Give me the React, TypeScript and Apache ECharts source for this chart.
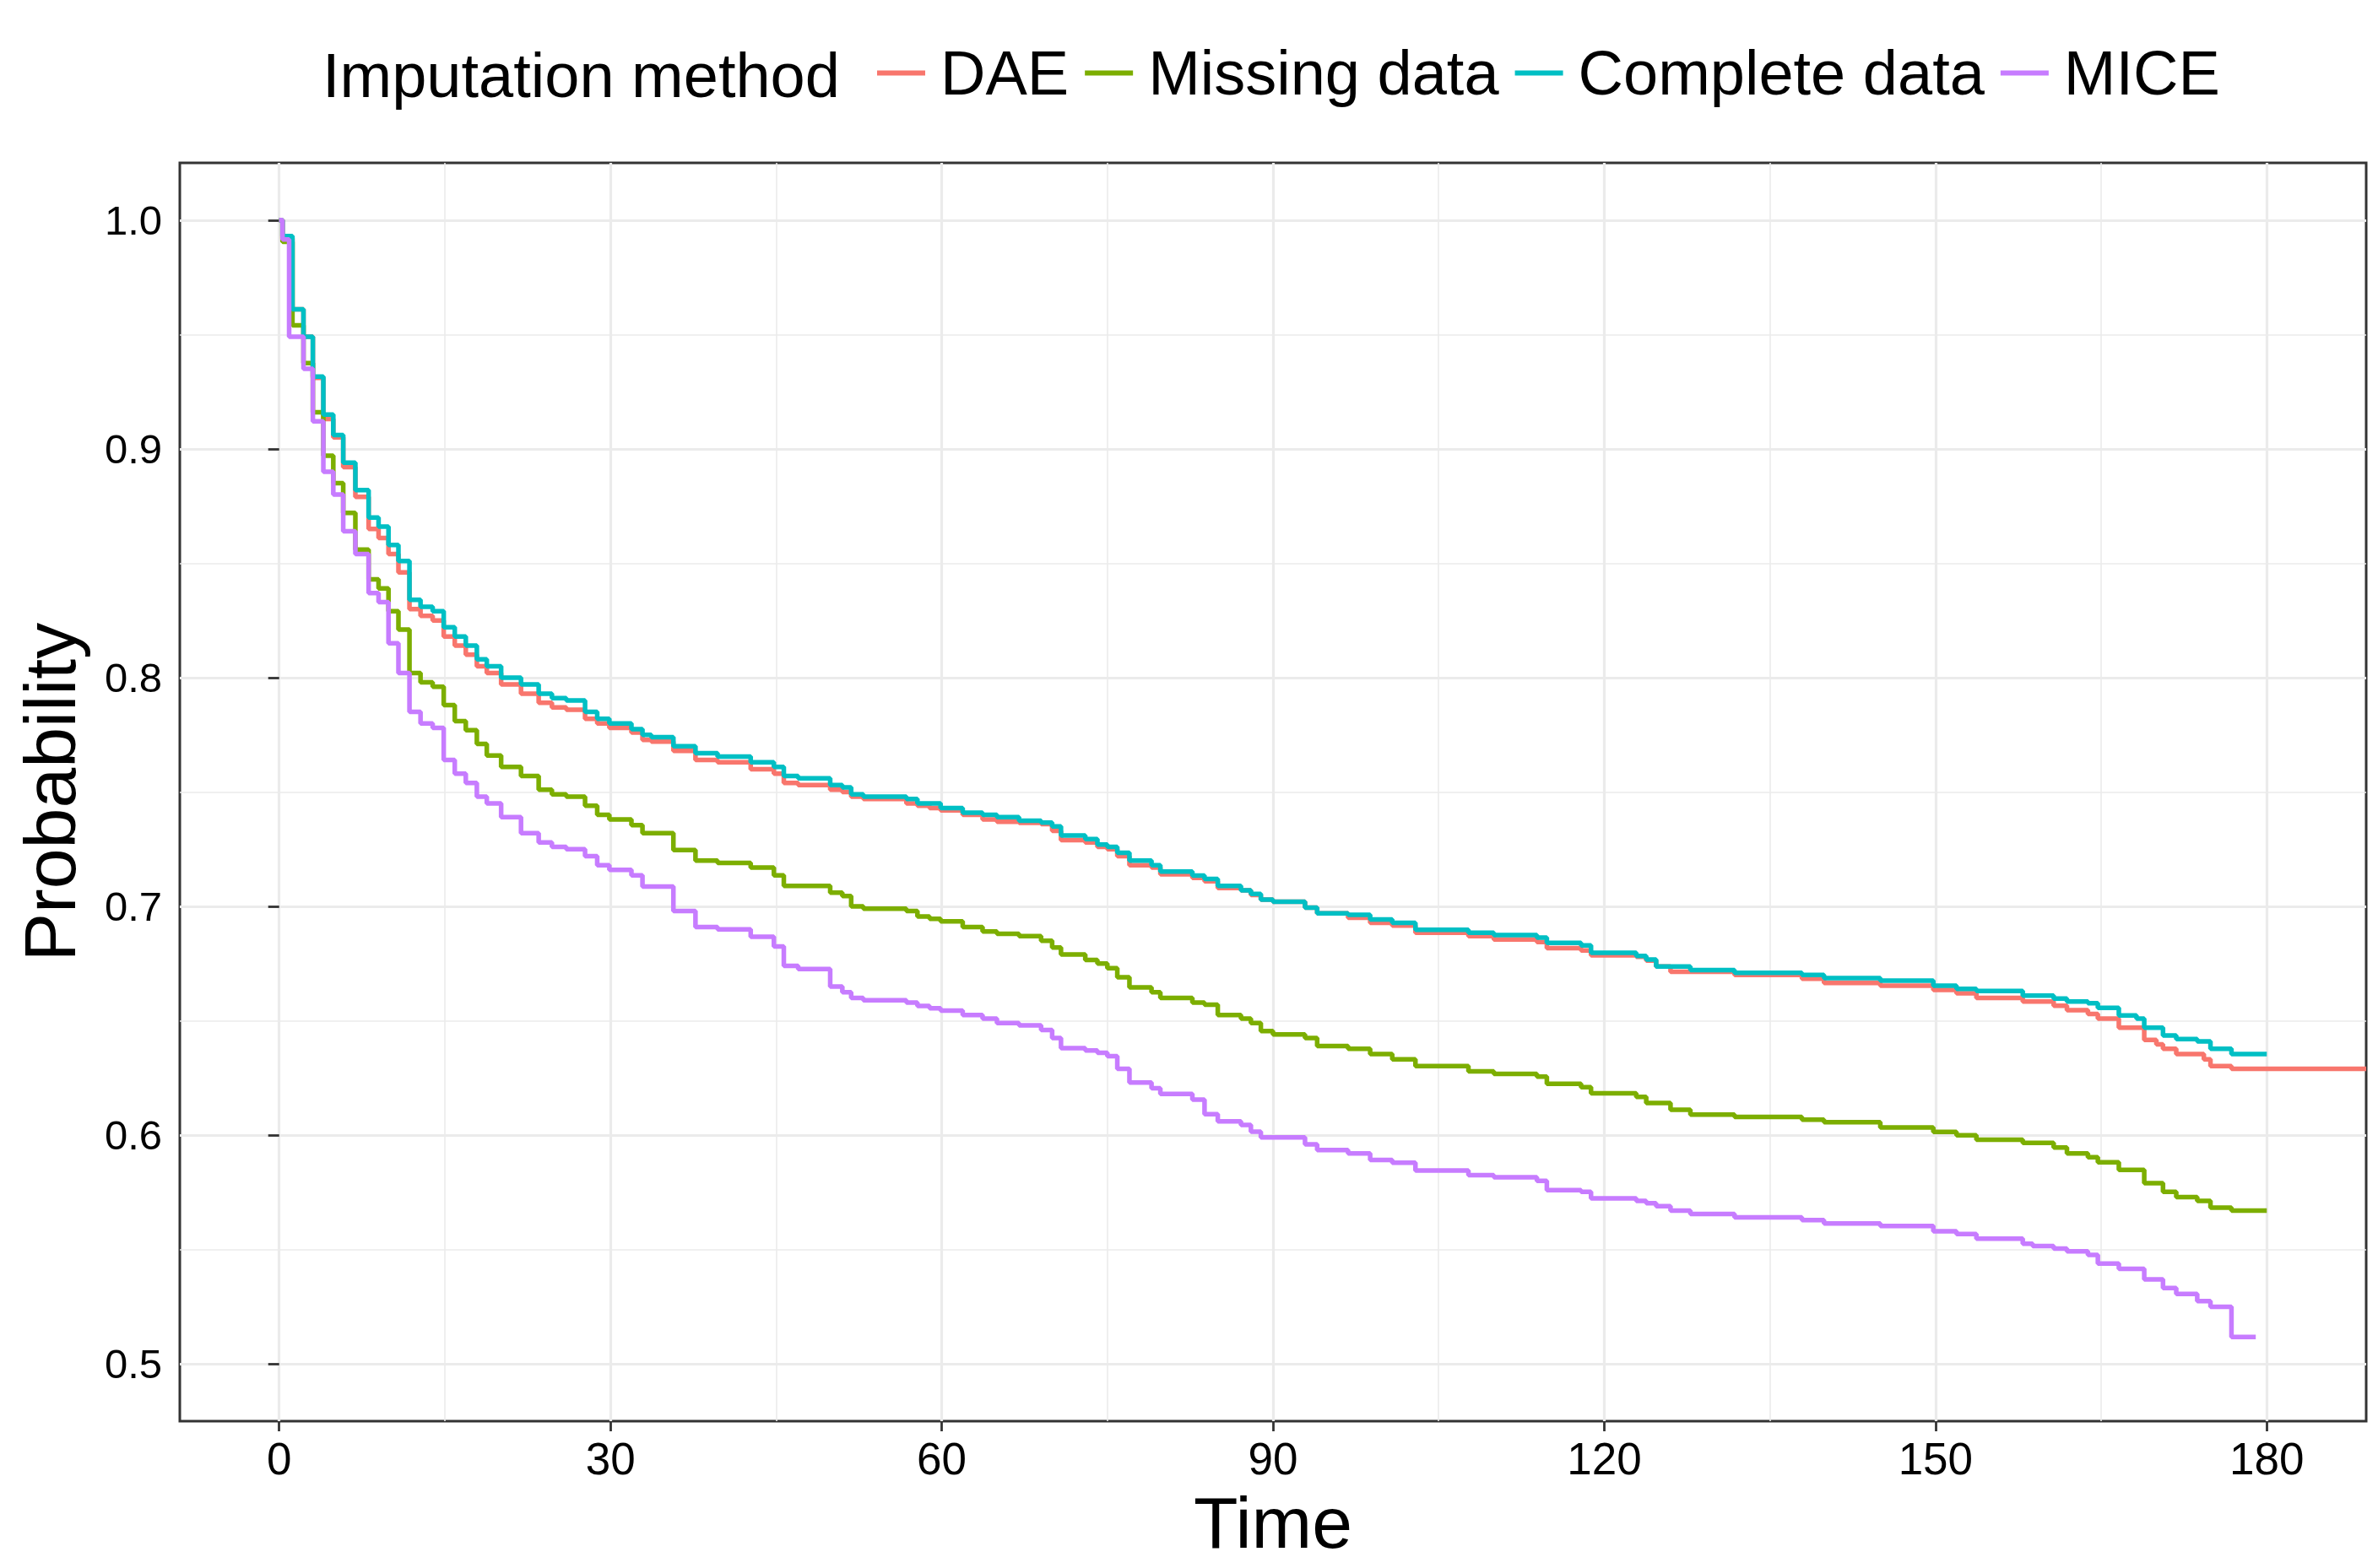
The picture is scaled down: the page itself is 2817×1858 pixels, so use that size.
import React, { useEffect, useRef } from "react";
import * as echarts from "echarts";

// ---- Data ----
const seriesNames = ["DAE", "Missing data", "Complete data", "MICE"];
const seriesColors = ["#F8766D", "#7CAE00", "#00BFC4", "#C77CFF"];

const times = [
  0, 0.3, 0.9, 1.2, 2.2, 3.05, 4.0, 4.9, 5.8, 6.9,
  8.1, 9.0, 9.9, 10.8, 11.8, 12.8, 13.9, 14.9, 15.9, 16.9,
  17.9, 18.8, 20.1, 21.9, 23.5, 24.7, 26.0, 27.7, 28.8, 29.9,
  31.9, 32.9, 33.7, 35.7, 37.7, 39.7, 42.7, 44.8, 45.7, 47.0,
  49.9, 51.0, 51.8, 52.9, 56.8, 57.8, 58.9, 59.9, 61.9, 63.7,
  65.0, 67.0, 69.0, 70.0, 70.8, 73.0, 74.1, 75.0, 75.9, 77.0,
  79.0, 79.8, 82.7, 83.8, 85.0, 87.1, 88.0, 88.9, 90.0, 92.9,
  94.0, 96.8, 98.8, 100.8, 102.9, 107.7, 110.0, 113.9, 114.8, 117.9,
  118.8, 122.9, 123.8, 124.7, 126.0, 127.8, 131.8, 137.9, 139.9, 145.0,
  149.8, 151.9, 153.7, 157.9, 158.8, 160.7, 161.9, 163.8, 164.7, 166.6,
  168.2, 168.9, 170.0, 170.6, 171.8, 173.7, 174.3, 174.9, 176.8, 179.0,
  180.0, 189.0,
];

const daeValues = [
  1.0, 0.992, 0.992, 0.961, 0.949, 0.931, 0.913, 0.905, 0.892, 0.879,
  0.865, 0.861, 0.854, 0.846, 0.83, 0.827, 0.825, 0.818, 0.814, 0.81,
  0.805, 0.802, 0.797, 0.793, 0.789, 0.787, 0.786, 0.782, 0.78, 0.778,
  0.776, 0.7728, 0.772, 0.768, 0.764, 0.763, 0.76, 0.758, 0.754, 0.753,
  0.751, 0.75, 0.748, 0.747, 0.745, 0.744, 0.743, 0.742, 0.74, 0.738,
  0.737, 0.7365, 0.736, 0.733, 0.729, 0.728, 0.726, 0.725, 0.722, 0.718,
  0.717, 0.714, 0.7125, 0.711, 0.708, 0.707, 0.705, 0.703, 0.702, 0.6995,
  0.697, 0.695, 0.6928, 0.6916, 0.6885, 0.687, 0.6855, 0.6844, 0.6818, 0.6807,
  0.6786, 0.678, 0.6763, 0.6737, 0.6714, 0.6714, 0.67, 0.6684, 0.6665, 0.6653,
  0.6635, 0.662, 0.66, 0.6584, 0.6584, 0.6566, 0.6546, 0.653, 0.651, 0.647,
  0.647, 0.6416, 0.6397, 0.6378, 0.6355, 0.6355, 0.6332, 0.6302, 0.629, 0.629,
  0.629, 0.629,
];

const missingValues = [
  1.0, 0.9905, 0.9905, 0.954, 0.9375, 0.916, 0.897, 0.885, 0.872, 0.856,
  0.843, 0.839, 0.829, 0.821, 0.802, 0.798, 0.796, 0.788, 0.781, 0.777,
  0.771, 0.766, 0.761, 0.757, 0.751, 0.749, 0.748, 0.744, 0.74, 0.738,
  0.7355, 0.732, 0.732, 0.7246, 0.72, 0.719, 0.717, 0.7136, 0.709, 0.709,
  0.706, 0.7045, 0.7, 0.699, 0.698, 0.6956, 0.6946, 0.6935, 0.691, 0.689,
  0.688, 0.687, 0.685, 0.682, 0.679, 0.6766, 0.675, 0.673, 0.669, 0.6646,
  0.6625, 0.66, 0.658, 0.657, 0.6525, 0.651, 0.649, 0.6455, 0.644, 0.6425,
  0.639, 0.6378, 0.6355, 0.6332, 0.6302, 0.6279, 0.6268, 0.6256, 0.6225, 0.621,
  0.6183, 0.6167, 0.6141, 0.6141, 0.6111, 0.609, 0.608, 0.6068, 0.6057, 0.6034,
  0.6014, 0.6, 0.598, 0.5966, 0.5966, 0.5946, 0.592, 0.5904, 0.5882, 0.5848,
  0.5848, 0.579, 0.579, 0.5752, 0.5729, 0.5713, 0.5713, 0.5683, 0.567, 0.567,
  0.567, null,
];

const completeValues = [
  1.0, 0.993, 0.993, 0.961, 0.949, 0.9316, 0.915, 0.906, 0.894, 0.882,
  0.87, 0.866, 0.858, 0.851, 0.834, 0.831, 0.829, 0.822, 0.818, 0.814,
  0.808, 0.805, 0.8, 0.797, 0.793, 0.791, 0.79, 0.785, 0.782, 0.78,
  0.7775, 0.775, 0.774, 0.77, 0.767, 0.7655, 0.763, 0.761, 0.757, 0.756,
  0.753, 0.752, 0.749, 0.748, 0.747, 0.745, 0.745, 0.743, 0.741, 0.74,
  0.739, 0.7375, 0.7366, 0.735, 0.731, 0.7294, 0.727, 0.726, 0.7234, 0.72,
  0.718, 0.7152, 0.7135, 0.712, 0.709, 0.707, 0.7055, 0.703, 0.702, 0.6995,
  0.697, 0.6963, 0.6943, 0.6928, 0.6898, 0.6885, 0.6875, 0.6864, 0.6841, 0.683,
  0.6797, 0.6783, 0.6768, 0.6737, 0.6737, 0.6722, 0.671, 0.67, 0.6687, 0.6676,
  0.6653, 0.664, 0.663, 0.661, 0.661, 0.6597, 0.6584, 0.6577, 0.6557, 0.6523,
  0.651, 0.647, 0.647, 0.6436, 0.642, 0.641, 0.641, 0.6378, 0.6355, 0.6355,
  0.6355, null,
];

const miceValues = [
  1.0, 0.9915, 0.949, 0.949, 0.935, 0.912, 0.89, 0.88, 0.864, 0.854,
  0.837, 0.833, 0.815, 0.802, 0.785, 0.78, 0.778, 0.764, 0.758, 0.754,
  0.748, 0.745, 0.739, 0.732, 0.728, 0.726, 0.725, 0.722, 0.718, 0.716,
  0.7136, 0.7087, 0.7087, 0.698, 0.691, 0.69, 0.6867, 0.6825, 0.674, 0.6726,
  0.665, 0.6625, 0.66, 0.659, 0.658, 0.6565, 0.6555, 0.6545, 0.6525, 0.651,
  0.649, 0.648, 0.646, 0.6425, 0.638, 0.637, 0.636, 0.6345, 0.629, 0.623,
  0.6205, 0.618, 0.6155, 0.6092, 0.606, 0.6045, 0.6015, 0.599, 0.599, 0.596,
  0.5935, 0.592, 0.5892, 0.588, 0.5846, 0.5825, 0.5816, 0.58, 0.576, 0.5752,
  0.5724, 0.5713, 0.5703, 0.569, 0.567, 0.5656, 0.5641, 0.5629, 0.5614, 0.5603,
  0.558, 0.5568, 0.5548, 0.5526, 0.5515, 0.5504, 0.5492, 0.5477, 0.5439, 0.5416,
  0.5416, 0.537, 0.537, 0.5332, 0.5306, 0.5275, 0.5275, 0.525, 0.5118, 0.5118,
  null, null,
];

const allValues = [daeValues, missingValues, completeValues, miceValues];

const xMajorTicks = [0, 30, 60, 90, 120, 150, 180];
const xMinorTicks = [15, 45, 75, 105, 135, 165];
const yMajorTicks = [0.5, 0.6, 0.7, 0.8, 0.9, 1.0];
const yMinorTicks = [0.55, 0.65, 0.75, 0.85, 0.95];

const FONT = "'Liberation Sans', Arial, sans-serif";

export default function App() {
  const ref = useRef<HTMLDivElement>(null);

  useEffect(() => {
    if (!ref.current) return;
    const chart = echarts.init(ref.current, undefined, { renderer: "svg" });

    const xMin = -9;
    const xMax = 189;
    const yMin = 0.475;
    const yMax = 1.025;

    const series = seriesNames.map((name, si) => ({
      name,
      type: "line",
      step: "end",
      showSymbol: false,
      symbol: "none",
      xAxisIndex: 0,
      yAxisIndex: 0,
      data: times
        .map((t, i) => [t, allValues[si][i]])
        .filter((p) => p[1] !== null),
      lineStyle: { color: seriesColors[si], width: 5.5 },
      itemStyle: { color: seriesColors[si] },
    }));

    const option: any = {
      animation: false,
      backgroundColor: "#ffffff",
      title: {
        text: "Imputation method",
        left: 382,
        top: 52.5,
        padding: 0,
        textStyle: {
          fontFamily: FONT,
          fontSize: 74,
          fontWeight: "normal",
          color: "#000000",
        },
      },
      legend: {
        data: seriesNames,
        left: 1039,
        top: 49.5,
        padding: 0,
        icon: "rect",
        itemWidth: 57,
        itemHeight: 6,
        itemGap: 19,
        selectedMode: false,
        textStyle: {
          fontFamily: FONT,
          fontSize: 74,
          color: "#000000",
          padding: [11, 0, 0, 13],
        },
      },
      grid: {
        left: 213,
        right: 14,
        top: 193,
        bottom: 174,
        show: true,
        borderColor: "#333333",
        borderWidth: 3,
        backgroundColor: "transparent",
        containLabel: false,
      },
      xAxis: [
        {
          type: "value",
          min: xMin,
          max: xMax,
          axisLine: { show: false },
          axisTick: {
            show: true,
            customValues: xMajorTicks,
            length: 12,
            lineStyle: { color: "#333333", width: 2.8 },
          },
          axisLabel: {
            show: true,
            customValues: xMajorTicks,
            fontFamily: FONT,
            fontSize: 53,
            color: "#000000",
            margin: 18,
          },
          splitLine: {
            show: true,
            lineStyle: { color: "#EBEBEB", width: 3.2 },
          },
          name: "Time",
          nameLocation: "middle",
          nameGap: 77,
          nameTextStyle: { fontFamily: FONT, fontSize: 86, color: "#000000" },
        },
        {
          type: "value",
          min: xMin,
          max: xMax,
          position: "bottom",
          axisLine: { show: false },
          axisTick: { show: false, customValues: xMinorTicks },
          axisLabel: { show: false, customValues: xMinorTicks },
          splitLine: {
            show: true,
            lineStyle: { color: "#EBEBEB", width: 1.6 },
          },
        },
      ],
      yAxis: [
        {
          type: "value",
          min: yMin,
          max: yMax,
          axisLine: { show: false },
          axisTick: {
            show: true,
            customValues: yMajorTicks,
            length: 13,
            lineStyle: { color: "#333333", width: 2.8 },
          },
          axisLabel: {
            show: true,
            customValues: yMajorTicks,
            fontFamily: FONT,
            fontSize: 49,
            color: "#000000",
            margin: 21,
            formatter: (v: number) => v.toFixed(1),
          },
          splitLine: {
            show: true,
            lineStyle: { color: "#EBEBEB", width: 3.2 },
          },
          name: "Probability",
          nameLocation: "middle",
          nameGap: 111,
          nameTextStyle: { fontFamily: FONT, fontSize: 86, color: "#000000" },
        },
        {
          type: "value",
          min: yMin,
          max: yMax,
          position: "left",
          axisLine: { show: false },
          axisTick: { show: false, customValues: yMinorTicks },
          axisLabel: { show: false, customValues: yMinorTicks },
          splitLine: {
            show: true,
            lineStyle: { color: "#EBEBEB", width: 1.6 },
          },
        },
      ],
      series,
    };

    chart.setOption(option);
    return () => {
      chart.dispose();
    };
  }, []);

  return (
    <div
      ref={ref}
      style={{
        position: "fixed",
        left: 0,
        top: 0,
        width: "2817px",
        height: "1858px",
        background: "#ffffff",
      }}
    />
  );
}
